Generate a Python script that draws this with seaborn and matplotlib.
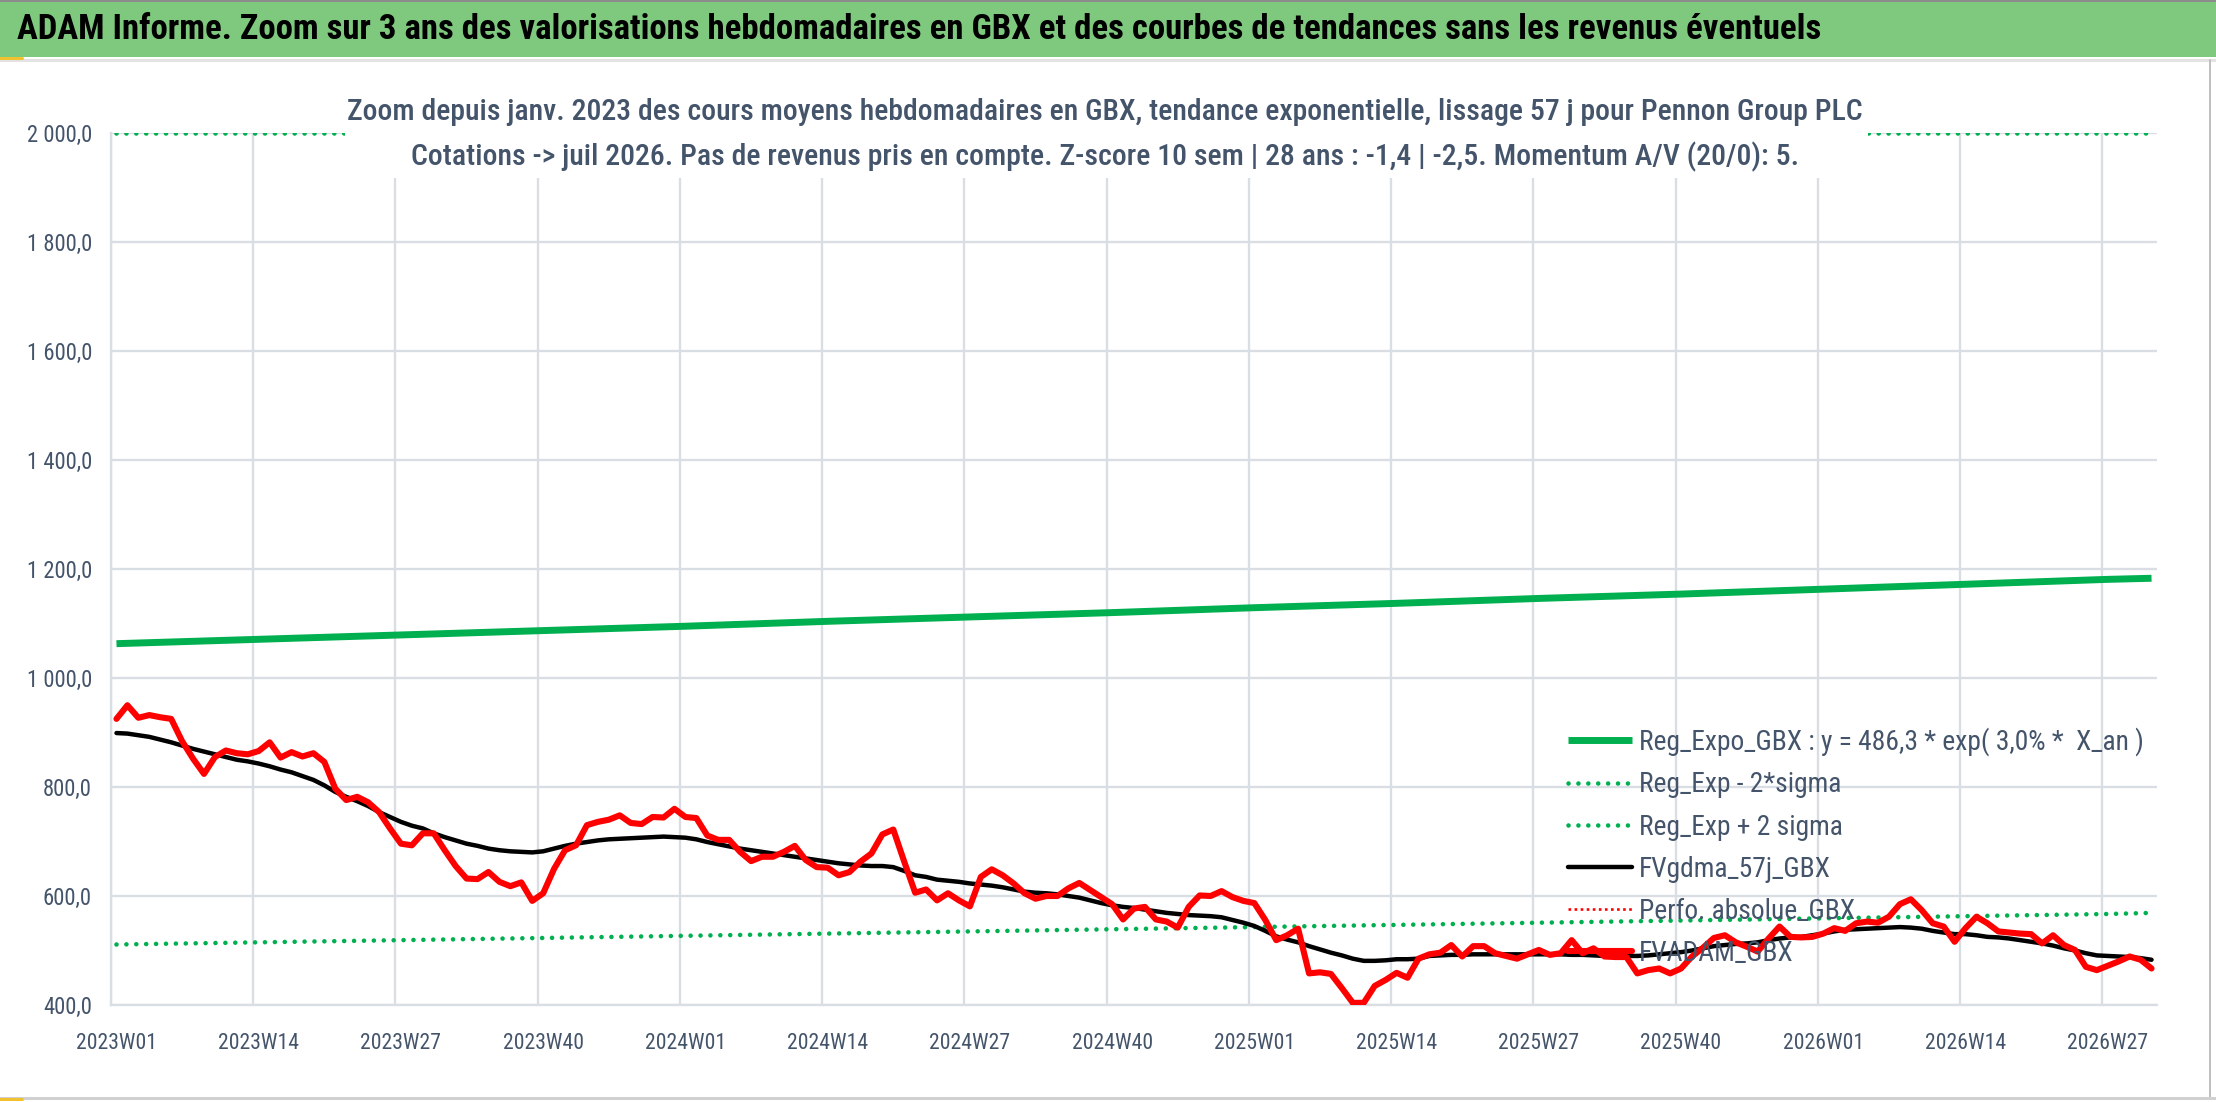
import numpy as np
import pandas as pd
import matplotlib
matplotlib.use("Agg")
import matplotlib.pyplot as plt
import seaborn as sns
from matplotlib import font_manager as fm
from matplotlib.lines import Line2D
from matplotlib.patches import Rectangle
from matplotlib.ticker import FuncFormatter

# ---------------- DATA ----------------
title = ("ADAM Informe. Zoom sur 3 ans des valorisations hebdomadaires en GBX "
         "et des courbes de tendances sans les revenus éventuels")
subtitle1 = ("Zoom depuis janv. 2023 des cours moyens hebdomadaires en GBX, tendance "
             "exponentielle, lissage 57 j pour Pennon Group PLC")
subtitle2 = ("Cotations -> juil 2026. Pas de revenus pris en compte. Z-score 10 sem | "
             "28 ans : -1,4 | -2,5. Momentum A/V (20/0): 5.")

weeks = [f"{y}W{w:02d}" for y, n in [(2023, 52), (2024, 52), (2025, 52), (2026, 31)]
         for w in range(1, n + 1)]

fvadam_gbx = [
    925, 950, 927, 932, 928, 925, 884, 852, 824, 855,
    867, 862, 860, 866, 882, 854, 864, 856, 862, 846,
    797, 776, 782, 772, 754, 724, 696, 693, 715, 715,
    684, 655, 632, 631, 644, 626, 618, 625, 591, 605,
    650, 684, 693, 730, 736, 740, 748, 734, 732, 745,
    744, 760, 745, 743, 711, 703, 703, 681, 664, 672,
    672, 681, 692, 666, 653, 652, 638, 644, 663, 678,
    713, 722, 663, 606, 612, 592, 605, 592, 581, 635,
    649, 638, 623, 605, 595, 600, 600, 614, 624, 611,
    598, 585, 557, 577, 580, 557, 553, 542, 580, 601,
    600, 609, 598, 591, 587, 556, 519, 528, 540, 458,
    460, 457, 431, 404, 404, 435, 446, 459, 450, 485,
    493, 496, 510, 489, 508, 508, 495, 490, 485, 493,
    501, 492, 495, 519, 495, 504, 489, 488, 488, 458,
    464, 467, 458, 467, 489, 505, 523, 528, 515,
    507, 498, 522, 544, 525, 524, 525, 531, 541, 536,
    550, 553, 551, 562, 585, 594, 574, 550, 544, 516,
    541, 562, 550, 535, 533, 531, 530, 513, 528, 510,
    501, 470, 464, 472, 480, 489, 483, 467,
]

fvgdma_57j_gbx = [
    899, 898, 895, 892, 887, 882, 876, 870, 865, 860,
    855, 850, 847, 843, 838, 832, 827, 820, 813, 803,
    791, 782, 774, 765, 754, 745, 736, 729, 724, 715,
    708, 702, 696, 692, 687, 684, 682, 681, 680, 682,
    687, 692, 696, 699, 702, 704, 705, 706, 707, 708,
    709, 708, 707, 704, 699, 695, 691, 687, 684, 681,
    678, 675, 672, 669, 666, 663, 660, 658, 656, 655,
    655, 653, 646, 638, 635, 630, 628, 626, 623, 621,
    619, 616, 612, 608, 606, 605, 603, 600, 597, 592,
    587, 583, 580, 578, 575, 572, 569, 567, 565, 564,
    563, 561, 556, 551, 545, 536, 526, 520, 515, 508,
    502, 496, 491, 485, 481, 481, 482, 484, 484, 485,
    490, 491, 492, 492, 493, 493, 493, 493, 493, 493,
    493, 493, 493, 492, 492, 491, 490, 490, 490, 490,
    491, 493, 495, 497, 500, 504, 508, 510, 512,
    513, 515, 519, 522, 524, 525, 528, 531, 535, 538,
    539, 540, 541, 542, 543, 542, 540, 536, 533, 530,
    530, 528, 525, 524, 522, 519, 516, 513, 509, 504,
    500, 495, 491, 490, 489, 488, 486, 483,
]

trend_weeks = ["2023W01", "2023W14", "2023W27", "2023W40", "2024W01", "2024W14",
               "2024W27", "2024W40", "2025W01", "2025W14", "2025W27", "2025W40",
               "2026W01", "2026W14", "2026W27", "2026W31"]
reg_expo_gbx = [1063, 1071, 1079, 1087, 1095, 1104, 1112, 1120,
                1129, 1137, 1146, 1154, 1163, 1172, 1181, 1183]
reg_exp_minus_2sigma = [511, 515, 519, 523, 527, 531, 535, 539,
                        543, 547, 551, 555, 559, 563, 567, 569]
reg_exp_plus_2sigma = [2000, 2000, 2000, 2000, 2000, 2000, 2000, 2000,
                       2000, 2000, 2000, 2000, 2000, 2000, 2000, 2000]

legend_labels = ["Reg_Expo_GBX : y = 486,3 * exp( 3,0% *  X_an )",
                 "Reg_Exp - 2*sigma", "Reg_Exp + 2 sigma", "FVgdma_57j_GBX",
                 "Perfo. absolue_GBX", "FVADAM_GBX"]

y_ticks = [400, 600, 800, 1000, 1200, 1400, 1600, 1800, 2000]

# ---------------- STYLE ----------------
sns.set_style("white")
names = {f.name for f in fm.fontManager.ttflist}
FONT, STRETCH = None, "normal"
for cand in ["Roboto Condensed", "Liberation Sans Narrow", "Open Sans Condensed",
             "Noto Sans Condensed", "Arial Narrow"]:
    if cand in names:
        FONT = cand
        break
if FONT is None:
    if any(f.name == "DejaVu Sans" and "ondensed" in f.fname for f in fm.fontManager.ttflist):
        FONT, STRETCH = "DejaVu Sans", "condensed"
    else:
        FONT = "Roboto" if "Roboto" in names else "DejaVu Sans"
plt.rcParams["font.family"] = [FONT, "DejaVu Sans"]
plt.rcParams["font.stretch"] = STRETCH

GREEN = "#00B050"
RED = "#FF0000"
TXT = "#44546A"
GRID = "#D9DDE4"
P = 72 / 100  # px -> pt

W, H = 2216, 1102
fig = plt.figure(figsize=(W / 100, H / 100), dpi=100, facecolor="white")
renderer = fig.canvas.get_renderer()

def text_width(s, size, **kw):
    t = fig.text(0, 0, s, fontsize=size, **kw)
    w = t.get_window_extent(renderer).width
    t.remove()
    return w

def fit_size(s, target, **kw):
    size = 20.0
    for _ in range(2):
        size *= target / text_width(s, size, **kw)
    return size

ax = fig.add_axes([111 / W, 1 - 1005 / H, (2157 - 111) / W, (1005 - 133) / H])
ax.set_facecolor("white")

x = np.arange(len(weeks))
df_w = pd.DataFrame({"idx": x, "FVADAM_GBX": fvadam_gbx, "FVgdma_57j_GBX": fvgdma_57j_gbx})
df_t = pd.DataFrame({"idx": [weeks.index(w) for w in trend_weeks],
                     "expo": reg_expo_gbx, "lo": reg_exp_minus_2sigma,
                     "hi": reg_exp_plus_2sigma})

dot = (0, (0.01, 2.15))
sns.lineplot(data=df_t, x="idx", y="expo", color=GREEN, lw=5.0, ax=ax, legend=False,
             solid_capstyle="butt", zorder=3)
h_expo = ax.lines[-1]
sns.lineplot(data=df_t, x="idx", y="lo", color=GREEN, lw=3.3, ax=ax, legend=False,
             linestyle=dot, dash_capstyle="round", zorder=3)
h_lo = ax.lines[-1]
sns.lineplot(data=df_t, x="idx", y="hi", color=GREEN, lw=3.3, ax=ax, legend=False,
             linestyle=dot, dash_capstyle="round", zorder=3)
h_hi = ax.lines[-1]
sns.lineplot(data=df_w, x="idx", y="FVgdma_57j_GBX", color="black", lw=3.2, ax=ax,
             legend=False, solid_joinstyle="round", solid_capstyle="round", zorder=4)
h_gdma = ax.lines[-1]
sns.lineplot(data=df_w, x="idx", y="FVADAM_GBX", color=RED, lw=4.4, ax=ax,
             legend=False, solid_joinstyle="round", solid_capstyle="round", zorder=5)
h_adam = ax.lines[-1]
h_perfo = Line2D([], [], color=RED, lw=1.9, linestyle=(0, (1, 1.3)))

# axes
ax.set_xlim(-0.5, len(weeks) - 0.5)
ax.set_ylim(400, 2000)
ax.set_xlabel("")
ax.set_ylabel("")
for side in ["top", "right"]:
    ax.spines[side].set_visible(False)
for side in ["left", "bottom"]:
    ax.spines[side].set_color(GRID)
    ax.spines[side].set_linewidth(2.3 * P)

tick_idx = list(range(0, len(weeks), 13))
bounds = [i - 0.5 for i in tick_idx]
ax.set_xticks(bounds)
ax.set_xticklabels([])
ax.set_xticks(tick_idx, minor=True)
ax.set_xticklabels([weeks[i] for i in tick_idx], minor=True)
ax.set_yticks(y_ticks)
ax.yaxis.set_major_formatter(FuncFormatter(
    lambda v, _: f"{v:,.1f}".replace(",", " ").replace(".", ",")))

xfs = fit_size("2023W01", 81)
yfs = fit_size("2 000,0", 65)
ax.tick_params(axis="x", which="major", length=8 * P, width=2 * P, color=GRID,
               direction="out")
ax.tick_params(axis="x", which="minor", length=0, pad=28 * P, labelsize=xfs,
               labelcolor=TXT)
ax.tick_params(axis="y", which="major", length=0, pad=19 * P, labelsize=yfs,
               labelcolor=TXT)
ax.grid(True, which="major", axis="both", color=GRID, lw=2.3 * P)
ax.set_axisbelow(True)

# legend
lfs = fit_size(legend_labels[0], 507)
lfs_px = lfs / P
handles = [h_expo, h_lo, h_hi, h_gdma, h_perfo, h_adam]
lab_sp = (43 - 1.2 * lfs_px) / lfs_px
anchor = [1568 / W, 1 - 720 / H]

def make_legend(ls, anc):
    lg = ax.legend(handles, legend_labels, loc="upper left", bbox_to_anchor=anc,
                   bbox_transform=fig.transFigure, frameon=False, fontsize=lfs,
                   handlelength=64 / lfs_px, handletextpad=7 / lfs_px,
                   labelspacing=ls, borderpad=0, borderaxespad=0, labelcolor=TXT)
    lg.set_zorder(6)
    return lg

leg = make_legend(lab_sp, anchor)
fig.canvas.draw()
tx = [t.get_window_extent(renderer) for t in leg.get_texts()]
sp = (tx[0].y0 + tx[0].y1) / 2 - (tx[1].y0 + tx[1].y1) / 2
lab_sp += (43 - sp) / lfs_px
leg.remove()
leg = make_legend(lab_sp, anchor)
fig.canvas.draw()
t0 = leg.get_texts()[0].get_window_extent(renderer)
dx = 1639 - t0.x0
dy = (H - 742) - (t0.y0 + t0.y1) / 2
anchor = [anchor[0] + dx / W, anchor[1] + dy / H]
leg.remove()
leg = make_legend(lab_sp, anchor)

# ---------------- FRAME / TITLES ----------------
fig.add_artist(Rectangle((0, 1 - 57 / H), 1, 57 / H, transform=fig.transFigure,
                         facecolor="#7FC97F", edgecolor="none", zorder=1))
fig.add_artist(Line2D([0, 1], [1 - 1 / H, 1 - 1 / H], transform=fig.transFigure,
                      color="#8C8C8C", lw=2 * P, zorder=2))
fig.add_artist(Line2D([0, 1], [1 - 59.5 / H, 1 - 59.5 / H], transform=fig.transFigure,
                      color="#E3E3E3", lw=3 * P, zorder=2))
fig.add_artist(Line2D([0, 22 / W], [1 - 58 / H, 1 - 58 / H], transform=fig.transFigure,
                      color="#F2C12E", lw=3 * P, zorder=3))
fig.add_artist(Line2D([2210 / W, 2210 / W], [1 - 60 / H, 1 - 1097 / H],
                      transform=fig.transFigure, color="#BFBFBF", lw=2 * P, zorder=2))
fig.add_artist(Line2D([0, 1], [1 - 1098 / H, 1 - 1098 / H], transform=fig.transFigure,
                      color="#D0D0D0", lw=3 * P, zorder=2))
fig.add_artist(Line2D([0, 22 / W], [1 - 1099 / H, 1 - 1099 / H], transform=fig.transFigure,
                      color="#F2C12E", lw=3 * P, zorder=3))

tfs = fit_size(title, 1806, fontweight="bold")
fig.text(17 / W, 1 - 39 / H, title, fontsize=tfs, fontweight="bold", color="black",
         ha="left", va="baseline", zorder=4)

fig.add_artist(Rectangle((345 / W, 1 - 178 / H), (1868 - 345) / W, (178 - 80) / H,
                         transform=fig.transFigure, facecolor="white",
                         edgecolor="none", zorder=5))
sfs = fit_size(subtitle1, 1515, fontweight="medium")
fig.text(1105 / W, 1 - 120 / H, subtitle1, fontsize=sfs, color=TXT, fontweight="medium",
         ha="center", va="baseline", zorder=6)
fig.text(1105 / W, 1 - 165 / H, subtitle2, fontsize=sfs, color=TXT, fontweight="medium",
         ha="center", va="baseline", zorder=6)

fig.savefig("out.png", dpi=100, facecolor="white")
